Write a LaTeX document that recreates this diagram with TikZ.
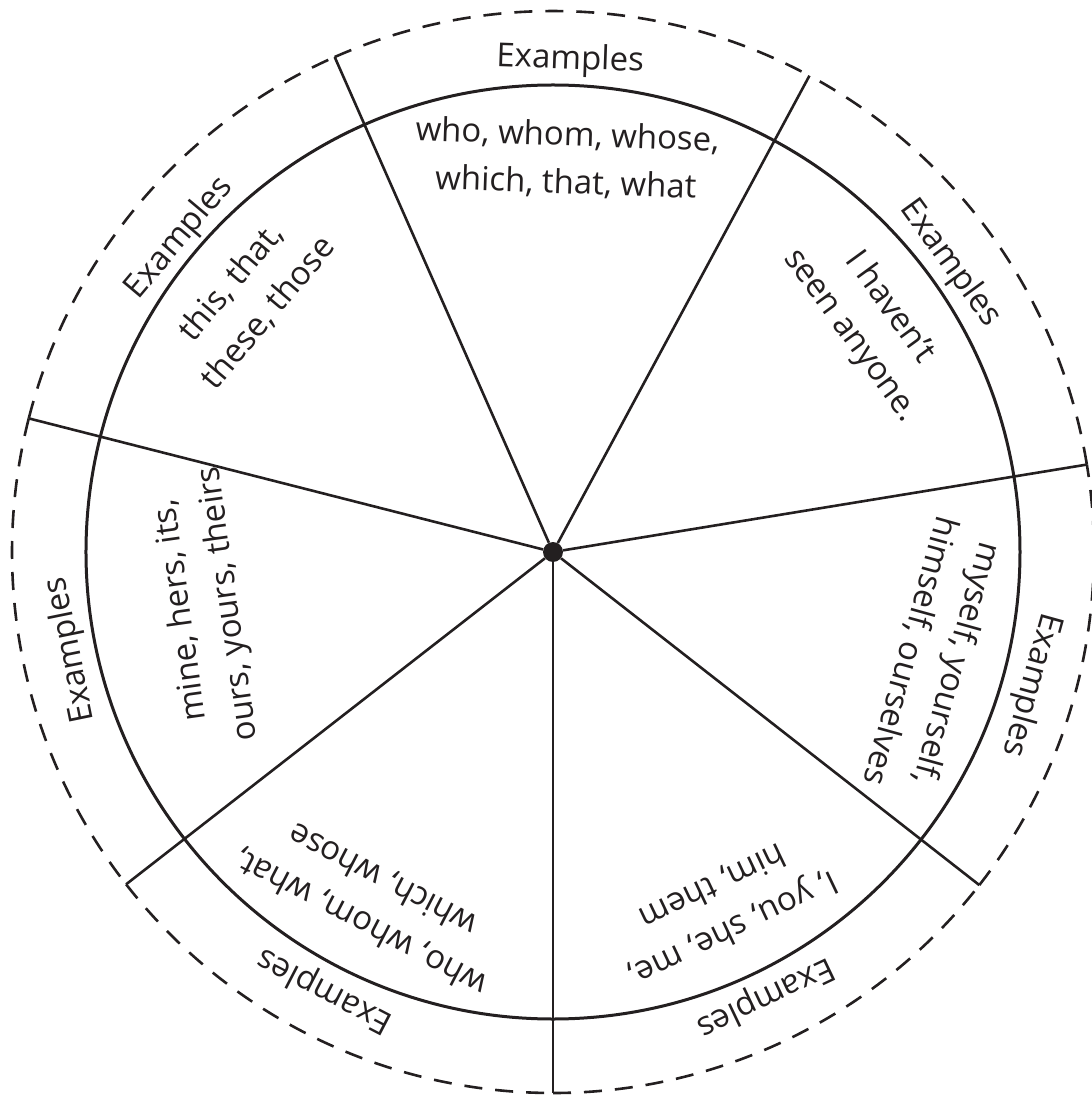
\documentclass[tikz,border=0pt]{standalone}
\usepackage{fontspec}
\setmainfont{Open Sans}
\definecolor{ink}{HTML}{231F20}

\tikzset{
  spoke/.style={ink, line width=2.6pt},
  rim/.style={ink, line width=3pt},
  cutline/.style={ink, line width=2.6pt, dash pattern=on 18pt off 13pt},
  hub/.style={circle, fill=ink, inner sep=0pt, minimum size=20pt},
  heading/.style={ink, font=\fontsize{33}{48}\selectfont},
  words/.style={ink, align=center, font=\fontsize{33}{48}\selectfont},
}

\begin{document}
\begin{tikzpicture}[x=1pt,y=1pt]
  \useasboundingbox (-553,-543) rectangle (539,552);
  \node[hub] (hub) at (0,0) {};
  \coordinate (e1) at (113.8:541);
  \coordinate (e2) at (61.7:541);
  \coordinate (e3) at (9.3:541);
  \coordinate (e4) at (-38:541);
  \coordinate (e5) at (-90:541);
  \coordinate (e6) at (-142.1:541);
  \coordinate (e7) at (165.7:541);
  \draw[rim] (hub.center) circle[radius=467];
  \draw[spoke] (hub) -- (e1);
  \draw[spoke] (hub) -- (e2);
  \draw[spoke] (hub) -- (e3);
  \draw[spoke] (hub) -- (e4);
  \draw[spoke] (hub) -- (e5);
  \draw[spoke] (hub) -- (e6);
  \draw[spoke] (hub) -- (e7);
  \draw[cutline] (e1) arc[start angle=113.8, end angle=61.7, radius=541];
  \draw[cutline] (e3) arc[start angle=9.3, end angle=61.7, radius=541];
  \draw[cutline] (e4) arc[start angle=-38, end angle=9.3, radius=541];
  \draw[cutline] (e5) arc[start angle=-90, end angle=-38, radius=541];
  \draw[cutline] (e6) arc[start angle=-142.1, end angle=-90, radius=541];
  \draw[cutline] (e7) arc[start angle=165.7, end angle=217.9, radius=541];
  \draw[cutline] (e7) arc[start angle=165.7, end angle=113.8, radius=541];
  \node[heading, rotate=-2] (h1) at (88:492) {Examples};
  \node[heading, rotate=-54] (h2) at (36:491) {Examples};
  \node[heading, rotate=-105.5] (h3) at (-15.5:496) {Examples};
  \node[heading, rotate=-154.5] (h4) at (-64.5:493) {Examples};
  \node[heading, rotate=152.5] (h5) at (-117.5:494) {Examples};
  \node[heading, rotate=101.5] (h6) at (191.5:492) {Examples};
  \node[heading, rotate=50] (h7) at (140:488) {Examples};
  \node[words, rotate=-2] (w1) at (88:393) {who, whom, whose,\\which, that, what};
  \node[words, rotate=-54] (w2) at (36:392) {I haven’t\\seen anyone.};
  \node[words, rotate=-105.5] (w3) at (-15.5:395) {myself, yourself,\\himself, ourselves};
  \node[words, rotate=-154.5] (w4) at (-64.5:394) {I, you, she, me,\\him, them};
  \node[words, rotate=152.5] (w5) at (-117.5:393) {who, whom, what,\\which, whose};
  \node[words, rotate=98] (w6) at (189:352) {mine, hers, its,\\ours, yours, theirs};
  \node[words, rotate=50] (w7) at (140:396) {this, that,\\these, those};
\end{tikzpicture}
\end{document}
